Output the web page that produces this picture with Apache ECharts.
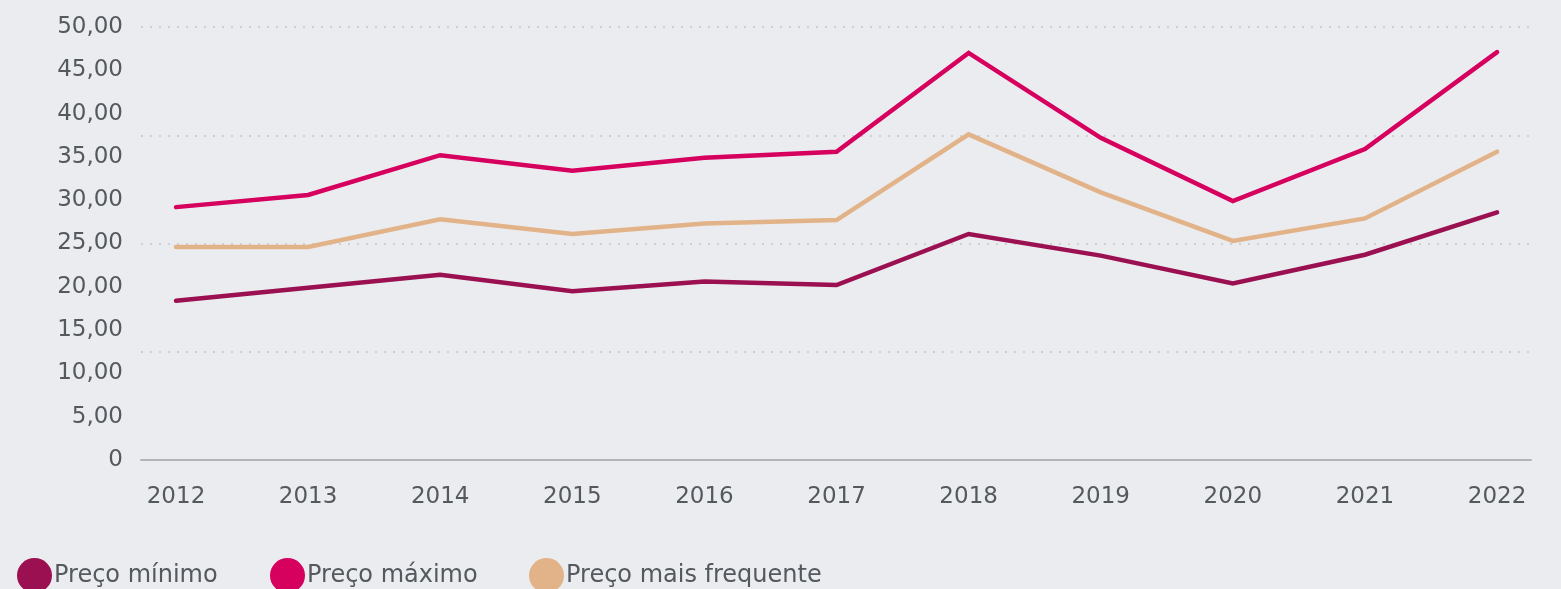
<!DOCTYPE html>
<html>
<head>
<meta charset="utf-8">
<style>
  html, body { margin: 0; padding: 0; background: #ebecf0; }
  #chart { width: 1561px; height: 589px; }
</style>
<script src="https://cdn.jsdelivr.net/npm/echarts@6/dist/echarts.min.js"></script>
</head>
<body>
<div id="chart"></div>
<script>
var years = [2012, 2013, 2014, 2015, 2016, 2017, 2018, 2019, 2020, 2021, 2022];
var precoMinimo = [18.4, 19.9, 21.4, 19.5, 20.6, 20.2, 26.1, 23.6, 20.4, 23.7, 28.6];
var precoMaximo = [29.2, 30.6, 35.2, 33.4, 34.9, 35.6, 47.0, 37.2, 29.9, 35.9, 47.1];
var precoFrequente = [24.6, 24.6, 27.8, 26.1, 27.3, 27.7, 37.6, 30.9, 25.3, 27.9, 35.6];
var seriesNames = ['Preço mínimo', 'Preço máximo', 'Preço mais frequente'];
var seriesColors = ['#9b1050', '#d6005e', '#e2b388'];

var font = 'DejaVu Sans';
var textColor = '#54595e';

function pairs(values) {
  return years.map(function (y, i) { return [y, values[i]]; });
}

function lineSeries(name, values, color) {
  return {
    name: name,
    type: 'line',
    data: pairs(values),
    showSymbol: false,
    symbol: 'circle',
    color: color,
    lineStyle: { width: 4.5, color: color, cap: 'round', join: 'miter' }
  };
}

// one legend per item so each sits where the original put it
function legendAt(left, name) {
  return {
    left: left,
    top: 553,
    icon: 'circle',
    itemWidth: 35,
    itemHeight: 35,
    itemGap: 0,
    data: [name],
    textStyle: { fontFamily: font, fontSize: 24, color: textColor, padding: [0, 0, 0, -3] }
  };
}

var chart = echarts.init(document.getElementById('chart'));
chart.setOption({
  backgroundColor: '#ebecf0',
  animation: false,
  legend: [
    legendAt(12, seriesNames[0]),
    legendAt(265, seriesNames[1]),
    legendAt(524, seriesNames[2])
  ],
  grid: { left: 141, right: 30, top: 27, bottom: 129 },
  xAxis: {
    type: 'value',
    min: 2011.735,
    max: 2022.257,
    axisLine: { show: true, lineStyle: { color: '#b3b4b6', width: 2 } },
    axisTick: { show: false },
    splitLine: { show: false },
    axisLabel: {
      customValues: years,
      margin: 26,
      fontFamily: font,
      fontSize: 23,
      color: textColor,
      formatter: function (v) { return String(Math.round(v)); }
    }
  },
  yAxis: [
    {
      type: 'value',
      min: 0,
      max: 50,
      interval: 5,
      axisLine: { show: false },
      axisTick: { show: false },
      splitLine: { show: false },
      axisLabel: {
        margin: 18,
        fontFamily: font,
        fontSize: 23,
        color: textColor,
        formatter: function (v) { return v === 0 ? '0' : v.toFixed(2).replace('.', ','); }
      }
    },
    {
      type: 'value',
      min: 0,
      max: 50,
      interval: 12.5,
      position: 'left',
      axisLine: { show: false },
      axisTick: { show: false },
      axisLabel: { show: false },
      splitLine: { show: true, lineStyle: { color: '#cfd0d4', width: 2, type: [2, 7] } }
    }
  ],
  series: [
    lineSeries(seriesNames[0], precoMinimo, seriesColors[0]),
    lineSeries(seriesNames[1], precoMaximo, seriesColors[1]),
    lineSeries(seriesNames[2], precoFrequente, seriesColors[2])
  ]
});
</script>
</body>
</html>
